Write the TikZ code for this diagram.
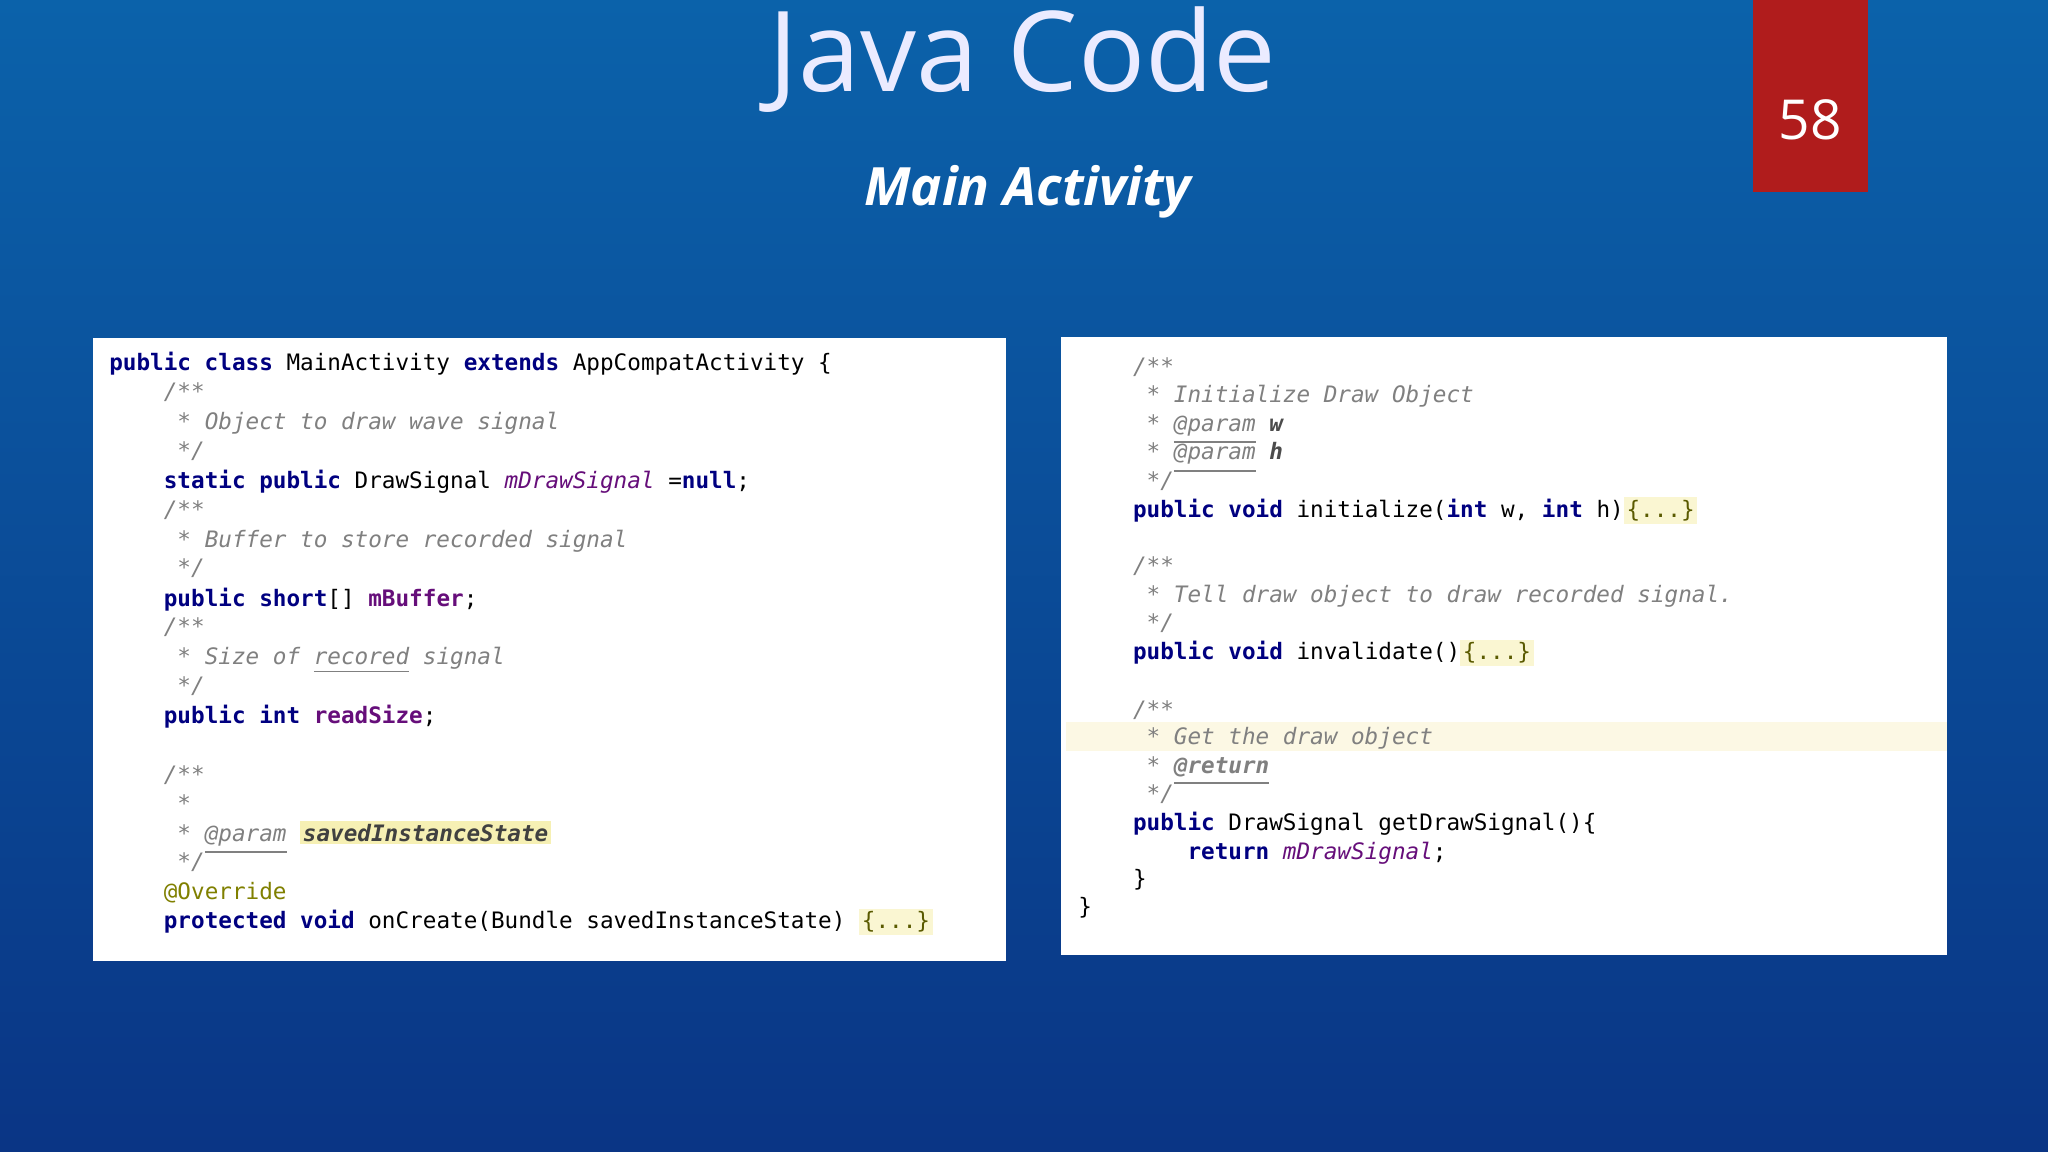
\documentclass[tikz,border=0pt]{standalone}
\usepackage{fontspec}
\setmainfont{Open Sans}
\setmonofont{DejaVu Sans Mono}
\usepackage{xcolor}
\definecolor{bgtop}{HTML}{0B62AA}
\definecolor{bgbot}{HTML}{0A3585}
\definecolor{kwc}{HTML}{000080}
\definecolor{cmc}{HTML}{808080}
\definecolor{fdc}{HTML}{660E7A}
\definecolor{hlc}{HTML}{F6F0B4}
\definecolor{ovc}{HTML}{808000}
\definecolor{rowc}{HTML}{FCF8E4}
\definecolor{redbox}{HTML}{B01C1C}
\setlength{\fboxsep}{0.6pt}
\newcommand{\kw}[1]{\textcolor{kwc}{\bfseries #1}}
\newcommand{\cm}[1]{\textcolor{cmc}{\itshape #1}}
\newcommand{\fd}[1]{\textcolor{fdc}{\itshape #1}}
\newcommand{\fb}[1]{\textcolor{fdc}{\bfseries #1}}
\newcommand{\pr}[1]{\textcolor{cmc}{\itshape\underline{#1}}}
\newcommand{\fold}{\colorbox{hlc!60!white}{\textcolor{ovc!70!black}{\{...\}}}}
\tikzset{code/.style={anchor=base west,inner sep=0pt,font=\ttfamily\fontsize{4.93}{6}\selectfont}}
\begin{document}
\begin{tikzpicture}[x=0.01cm,y=-0.01cm]
\shade[top color=bgtop,bottom color=bgbot] (0,0) rectangle (1568,882);
\useasboundingbox (0,0) rectangle (1568,882);
\node[font=\fontsize{24.3}{28}\selectfont,text=white!92!blue] (title) at (783,46) {Java Code};
\node[font=\bfseries\itshape\fontsize{11.5}{14}\selectfont,text=white] (sub) at (787,147) {Main Activity};
\fill[redbox] (1342,0) rectangle (1430,147);
\node[font=\fontsize{12}{14}\selectfont,text=white] (num) at (1386,92) {58};
\fill[white] (71,259) rectangle (770,736);
\fill[white] (812,258) rectangle (1491,731);
\fill[rowc] (816,553) rectangle (1491,575);
% left
\node[code] (l1) at (83,284) {\kw{public class} MainActivity \kw{extends} AppCompatActivity \{};
\node[code] (l2) at (83,306) {\cm{~~~~/**}};
\node[code] (l3) at (83,329) {\cm{~~~~~* Object to draw wave signal}};
\node[code] (l4) at (83,351) {\cm{~~~~~*/}};
\node[code] (l5) at (83,374) {~~~~\kw{static public} DrawSignal \fd{mDrawSignal} =\kw{null};};
\node[code] (l6) at (83,396) {\cm{~~~~/**}};
\node[code] (l7) at (83,419) {\cm{~~~~~* Buffer to store recorded signal}};
\node[code] (l8) at (83,441) {\cm{~~~~~*/}};
\node[code] (l9) at (83,464) {~~~~\kw{public short}[] \fb{mBuffer};};
\node[code] (l10) at (83,486) {\cm{~~~~/**}};
\node[code] (l11) at (83,509) {\cm{~~~~~* Size of \underline{recored} signal}};
\node[code] (l12) at (83,531) {\cm{~~~~~*/}};
\node[code] (l13) at (83,554) {~~~~\kw{public int} \fb{readSize};};
\node[code] (l14) at (83,599) {\cm{~~~~/**}};
\node[code] (l15) at (83,621) {\cm{~~~~~*}};
\node[code] (l16) at (83,644) {\cm{~~~~~* }\pr{@param} \colorbox{hlc}{\textcolor{black!75}{\bfseries\itshape savedInstanceState}}};
\node[code] (l17) at (83,666) {\cm{~~~~~*/}};
\node[code] (l18) at (83,689) {~~~~\textcolor{ovc}{@Override}};
\node[code] (l19) at (83,711) {~~~~\kw{protected void} onCreate(Bundle savedInstanceState) \fold};
% right
\node[code] (r1) at (825,287) {\cm{~~~~/**}};
\node[code] (r2) at (825,308) {\cm{~~~~~* Initialize Draw Object}};
\node[code] (r3) at (825,330) {\cm{~~~~~* }\pr{@param} \textcolor{black!70}{\bfseries\itshape w}};
\node[code] (r4) at (825,352) {\cm{~~~~~* }\pr{@param} \textcolor{black!70}{\bfseries\itshape h}};
\node[code] (r5) at (825,374) {\cm{~~~~~*/}};
\node[code] (r6) at (825,396) {~~~~\kw{public void} initialize(\kw{int} w, \kw{int} h)\fold};
\node[code] (r7) at (825,439) {\cm{~~~~/**}};
\node[code] (r8) at (825,461) {\cm{~~~~~* Tell draw object to draw recorded signal.}};
\node[code] (r9) at (825,483) {\cm{~~~~~*/}};
\node[code] (r10) at (825,505) {~~~~\kw{public void} invalidate()\fold};
\node[code] (r11) at (825,549) {\cm{~~~~/**}};
\node[code] (r12) at (825,570) {\cm{~~~~~* Get the draw object}};
\node[code] (r13) at (825,592) {\cm{~~~~~* }\pr{\bfseries @return}};
\node[code] (r14) at (825,614) {\cm{~~~~~*/}};
\node[code] (r15) at (825,636) {~~~~\kw{public} DrawSignal getDrawSignal()\{};
\node[code] (r16) at (825,658) {~~~~~~~~\kw{return} \fd{mDrawSignal};};
\node[code] (r17) at (825,679) {~~~~\}};
\node[code] (r18) at (825,700) {\}};
\end{tikzpicture}
\end{document}
